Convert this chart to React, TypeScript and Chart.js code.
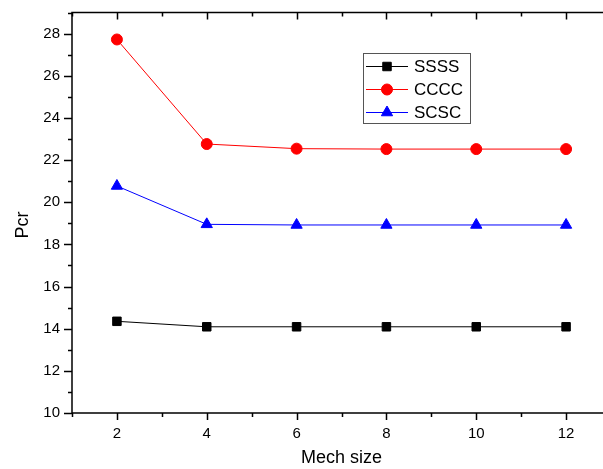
import React, { useEffect, useRef } from "react";
import { Chart, registerables } from "chart.js";

Chart.register(...registerables);

const meshSizes = [2, 4, 6, 8, 10, 12];
const ssss = [14.35, 14.09, 14.09, 14.09, 14.09, 14.09];
const cccc = [27.72, 22.76, 22.54, 22.52, 22.52, 22.52];
const scsc = [20.77, 18.95, 18.92, 18.92, 18.92, 18.92];

const xTitle = "Mech size";
const yTitle = "Pcr";
const FONT = "'Liberation Sans', Arial, sans-serif";

const seriesDefs = [
  { label: "SSSS", data: ssss, color: "#000000", style: "rect", radius: 6 },
  { label: "CCCC", data: cccc, color: "#ff0000", style: "circle", radius: 5.5 },
  { label: "SCSC", data: scsc, color: "#0000ff", style: "triangle", radius: 6.5 },
];

function drawMarker(ctx: CanvasRenderingContext2D, style: string, r: number, x: number, y: number) {
  ctx.beginPath();
  if (style === "rect") {
    const h = r * Math.SQRT1_2;
    ctx.rect(x - h, y - h, 2 * h, 2 * h);
  } else if (style === "circle") {
    ctx.arc(x, y, r, 0, Math.PI * 2);
  } else {
    let rad = 0;
    ctx.moveTo(x + Math.sin(rad) * r, y - Math.cos(rad) * r);
    rad += (2 * Math.PI) / 3;
    ctx.lineTo(x + Math.sin(rad) * r, y - Math.cos(rad) * r);
    rad += (2 * Math.PI) / 3;
    ctx.lineTo(x + Math.sin(rad) * r, y - Math.cos(rad) * r);
    ctx.closePath();
  }
  ctx.fill();
  ctx.stroke();
}

// Frame, inside/outside ticks, titles and the boxed legend
const framePlugin = {
  id: "frame",
  afterDraw(chart: any) {
    const { ctx, chartArea: a } = chart;
    const xs = chart.scales.x;
    const ys = chart.scales.y;
    ctx.save();
    ctx.strokeStyle = "#000";
    ctx.lineWidth = 1.5;
    ctx.beginPath();
    ctx.rect(a.left, a.top, a.right - a.left, a.bottom - a.top);
    ctx.stroke();

    ctx.beginPath();
    for (const t of xs.ticks) {
      const px = Math.round(xs.getPixelForValue(t.value)) + 0.5;
      const major = t.value % 2 === 0;
      const len = major ? 7 : 4;
      ctx.moveTo(px, a.bottom);
      ctx.lineTo(px, a.bottom + len);
      ctx.moveTo(px, a.top);
      ctx.lineTo(px, a.top + len);
    }
    for (const t of ys.ticks) {
      const py = Math.round(ys.getPixelForValue(t.value)) + 0.5;
      const major = t.value % 2 === 0;
      const len = major ? 8 : 4;
      ctx.moveTo(a.left, py);
      ctx.lineTo(a.left - len, py);
      ctx.moveTo(a.right, py);
      ctx.lineTo(a.right - len, py);
    }
    ctx.stroke();

    // axis titles
    ctx.fillStyle = "#000";
    ctx.font = `18px ${FONT}`;
    ctx.textAlign = "center";
    ctx.textBaseline = "middle";
    ctx.fillText(xTitle, (a.left + a.right) / 2, 458);
    ctx.save();
    ctx.translate(23, 225);
    ctx.rotate(-Math.PI / 2);
    ctx.fillText(yTitle, 0, 0);
    ctx.restore();

    // legend box
    const bx = 363, by = 53, bw = 107, bh = 70;
    ctx.strokeStyle = "#555";
    ctx.lineWidth = 1;
    ctx.strokeRect(bx + 0.5, by + 0.5, bw, bh);
    const rows = [66, 89, 112];
    ctx.font = `17px ${FONT}`;
    ctx.textAlign = "left";
    seriesDefs.forEach((s, i) => {
      const y = rows[i];
      ctx.strokeStyle = s.color;
      ctx.lineWidth = 1;
      ctx.beginPath();
      ctx.moveTo(366, y + 0.5);
      ctx.lineTo(408, y + 0.5);
      ctx.stroke();
      ctx.fillStyle = s.color;
      drawMarker(ctx, s.style, s.radius, 387, y + 0.5);
      ctx.fillStyle = "#000";
      ctx.fillText(s.label, 414, y + 1);
    });
    ctx.restore();
  },
};

export default function App() {
  const ref = useRef<HTMLCanvasElement>(null);
  useEffect(() => {
    if (!ref.current) return;
    const chart = new Chart(ref.current, {
      type: "line",
      data: {
        datasets: seriesDefs.map((s) => ({
          label: s.label,
          data: meshSizes.map((m, i) => ({ x: m, y: s.data[i] })),
          borderColor: s.color,
          backgroundColor: s.color,
          borderWidth: 1,
          pointStyle: s.style as any,
          pointRadius: s.radius,
          pointBorderWidth: 1,
          pointBackgroundColor: s.color,
          pointBorderColor: s.color,
          tension: 0,
        })),
      },
      options: {
        responsive: false,
        animation: false,
        devicePixelRatio: 1,
        layout: { autoPadding: false, padding: { left: 0, right: 11, top: 12.5, bottom: 0 } },
        plugins: { legend: { display: false }, tooltip: { enabled: false } },
        scales: {
          x: {
            type: "linear",
            min: 1,
            max: 13,
            border: { display: false },
            grid: { display: false, drawTicks: false },
            ticks: {
              stepSize: 1,
              autoSkip: false,
              maxRotation: 0,
              padding: 12,
              color: "#000",
              font: { family: FONT, size: 15 },
              callback: (v: any) => (Number(v) % 2 === 0 ? String(v) : ""),
            },
            afterFit: (s: any) => {
              s.height = 56;
              s.paddingLeft = 0;
              s.paddingRight = 0;
              s.paddingTop = 0;
              s.paddingBottom = 0;
            },
          },
          y: {
            min: 10,
            max: 29,
            border: { display: false },
            grid: { display: false, drawTicks: false },
            ticks: {
              stepSize: 1,
              autoSkip: false,
              padding: 12,
              color: "#000",
              font: { family: FONT, size: 15 },
              callback: (v: any) => (Number(v) % 2 === 0 ? String(v) : ""),
            },
            afterFit: (s: any) => {
              s.width = 72;
              s.paddingLeft = 0;
              s.paddingRight = 0;
              s.paddingTop = 0;
              s.paddingBottom = 0;
            },
          },
        },
      },
      plugins: [framePlugin],
    });
    return () => chart.destroy();
  }, []);
  return (
    <div style={{ position: "absolute", left: 0, top: 0, width: 622, height: 469, background: "#fff" }}>
      <canvas ref={ref} width={622} height={469} />
    </div>
  );
}
